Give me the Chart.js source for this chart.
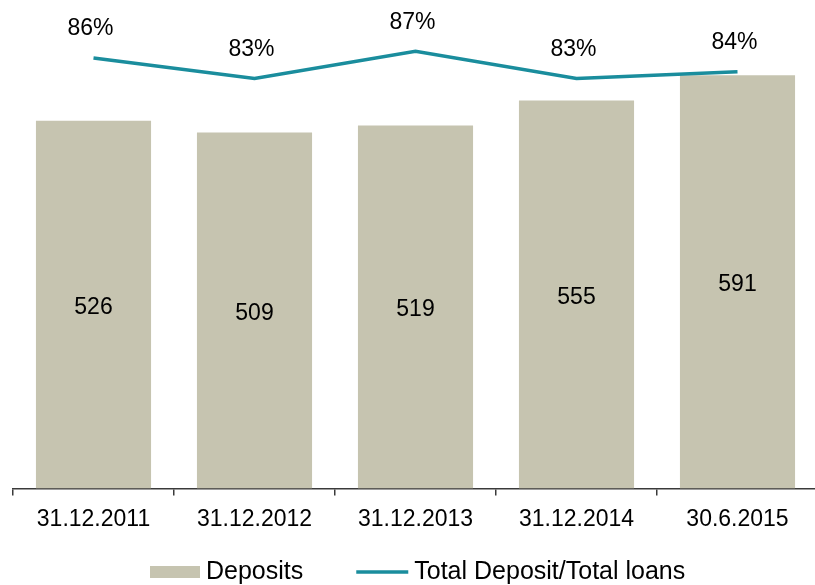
<!DOCTYPE html>
<html>
<head>
<meta charset="utf-8">
<title>Deposits</title>
<script src="https://cdn.jsdelivr.net/npm/chart.js@4.4.1/dist/chart.umd.min.js"></script>
<style>
  html, body { margin: 0; padding: 0; background: #ffffff; overflow: hidden; }
  #wrap { position: relative; width: 825px; height: 585px; }
</style>
</head>
<body>
<div id="wrap"><canvas id="chart"></canvas></div>
<script>
// Period end dates
const categories = ['31.12.2011', '31.12.2012', '31.12.2013', '31.12.2014', '30.6.2015'];
// Deposits (bars)
const deposits = [526, 509, 519, 555, 591];
// Total Deposit / Total loans ratio, in percent (line)
const depositLoanRatio = [86, 83, 87, 83, 84];

const FONT = '"Liberation Sans", Arial, Helvetica, sans-serif';
const BAR_COLOR = '#C6C4B0';
const LINE_COLOR = '#1A8D9D';
const AXIS_COLOR = '#3a3a3a';

// Value labels: inside the middle of each bar, above each line point
const valueLabels = {
  id: 'valueLabels',
  afterDatasetsDraw(chart) {
    const ctx = chart.ctx;
    ctx.save();
    ctx.fillStyle = '#000';
    ctx.textAlign = 'center';
    ctx.textBaseline = 'middle';
    chart.data.datasets.forEach((ds, i) => {
      const meta = chart.getDatasetMeta(i);
      meta.data.forEach((el, j) => {
        const v = ds.data[j];
        ctx.font = '23px ' + FONT;
        if (ds.type === 'bar') {
          ctx.fillText(String(v), el.x, (el.y + el.base) / 2 + 3);
        } else {
          ctx.fillText(v + '%', el.x - 3, el.y - 29);
        }
      });
    });
    ctx.restore();
  }
};

// Legend row under the category labels
const bottomLegend = {
  id: 'bottomLegend',
  afterDraw(chart) {
    const ctx = chart.ctx;
    const y = 572;
    let x = 150;
    ctx.save();
    ctx.font = '25px ' + FONT;
    ctx.textBaseline = 'middle';
    ctx.textAlign = 'left';
    chart.data.datasets.forEach((ds) => {
      if (ds.type === 'bar') {
        ctx.fillStyle = ds.backgroundColor;
        ctx.fillRect(x, y - 6, 50, 12);
        x += 56;
      } else {
        ctx.strokeStyle = ds.borderColor;
        ctx.lineWidth = 3.5;
        ctx.beginPath();
        ctx.moveTo(x, y);
        ctx.lineTo(x + 52, y);
        ctx.stroke();
        x += 58;
      }
      ctx.fillStyle = '#000';
      ctx.fillText(ds.label, x, y);
      x += ctx.measureText(ds.label).width + 53;
    });
    ctx.restore();
  }
};

new Chart(document.getElementById('chart'), {
  type: 'bar',
  data: {
    labels: categories,
    datasets: [
      {
        type: 'bar',
        label: 'Deposits',
        data: deposits,
        backgroundColor: BAR_COLOR,
        borderWidth: 0,
        categoryPercentage: 1,
        barPercentage: 0.715,
        yAxisID: 'y',
        order: 2
      },
      {
        type: 'line',
        label: 'Total Deposit/Total loans',
        data: depositLoanRatio,
        borderColor: LINE_COLOR,
        backgroundColor: LINE_COLOR,
        borderWidth: 3.5,
        pointRadius: 0,
        tension: 0,
        fill: false,
        yAxisID: 'y2',
        order: 1
      }
    ]
  },
  options: {
    responsive: true,
    maintainAspectRatio: false,
    animation: false,
    layout: { padding: { top: 13, left: 13, right: 7, bottom: 42 } },
    plugins: {
      legend: { display: false },
      tooltip: { enabled: false }
    },
    scales: {
      x: {
        offset: true,
        grid: {
          display: true,
          offset: true,
          drawOnChartArea: false,
          drawTicks: true,
          tickLength: 7,
          color: AXIS_COLOR,
          lineWidth: 1.5
        },
        border: { display: true, color: AXIS_COLOR, width: 1.5 },
        ticks: {
          color: '#000',
          font: { family: FONT, size: 23 },
          padding: 10,
          maxRotation: 0,
          autoSkip: false
        }
      },
      y: { display: false, min: 0, max: 680 },
      y2: { display: false, position: 'right', min: 23, max: 92.6 }
    }
  },
  plugins: [valueLabels, bottomLegend]
});
</script>
</body>
</html>
